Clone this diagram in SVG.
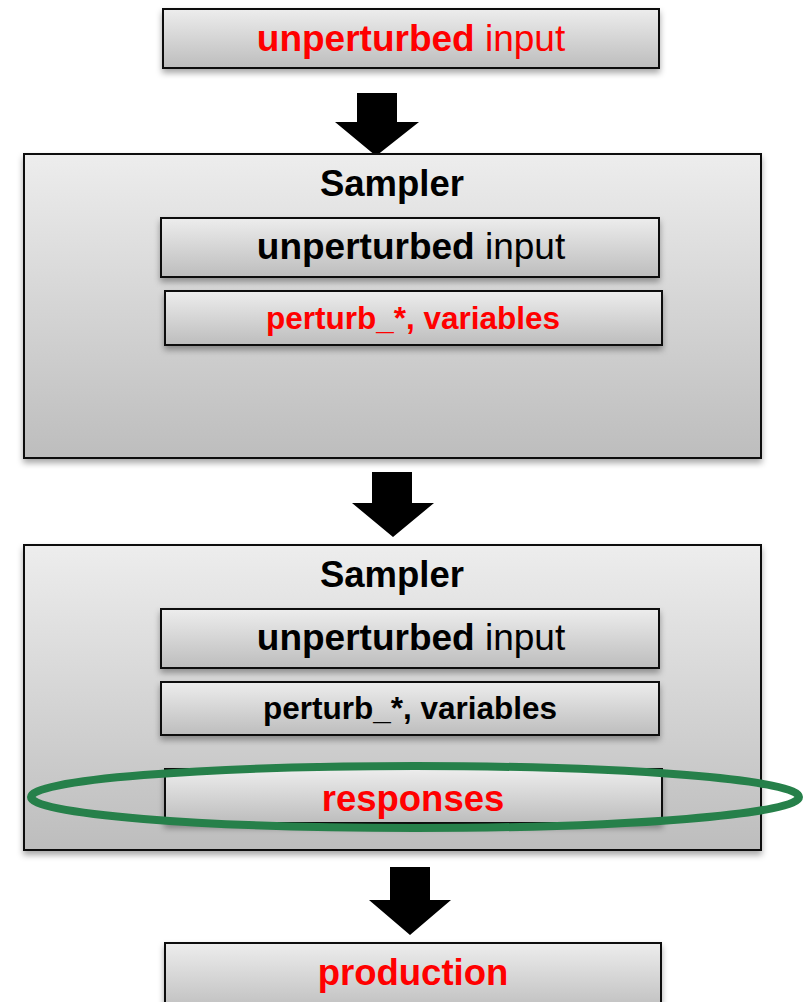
<svg xmlns="http://www.w3.org/2000/svg" width="804" height="1002" viewBox="0 0 804 1002">
<defs>
<linearGradient id="g" x1="0" y1="0" x2="0" y2="1">
<stop offset="0" stop-color="#ededed"/>
<stop offset="1" stop-color="#bdbdbd"/>
</linearGradient>
<filter id="sh" x="-10%" y="-20%" width="120%" height="150%">
<feDropShadow dx="0" dy="4" stdDeviation="3" flood-color="#000" flood-opacity="0.35"/>
</filter>
</defs>
<style>
.box{fill:url(#g);stroke:#111;stroke-width:2;filter:url(#sh)}
.t{font-family:"Liberation Sans",Arial,sans-serif;text-anchor:middle}
.b{font-weight:bold}
.red{fill:#ff0000}
.blk{fill:#000}
.arr{fill:#000}
</style>
<rect width="804" height="1002" fill="#fff"/>
<g id="connectors">
<polygon class="arr" points="357,93 397,93 397,122 419,122 376,156 335,122 357,122"/>
<polygon class="arr" points="372,472 412,472 412,503 434,503 393,537 352,503 372,503"/>
<polygon class="arr" points="390,867 430,867 430,900 451,900 410,935 369,900 390,900"/>
</g>
<g id="input-top">
<rect class="box" x="163" y="9" width="496" height="59"/>
<text class="t red" x="411" y="51" font-size="37"><tspan class="b">unperturbed</tspan> input</text>
</g>
<g id="sampler1">
<rect class="box" x="24" y="154" width="737" height="304"/>
<text class="t b blk" x="392" y="196" font-size="36.5">Sampler</text>
</g>
<g id="sampler1-input">
<rect class="box" x="161" y="218" width="498" height="59"/>
<text class="t blk" x="411" y="259" font-size="37"><tspan class="b">unperturbed</tspan> input</text>
</g>
<g id="sampler1-perturb">
<rect class="box" x="165" y="291" width="497" height="54"/>
<text class="t b red" x="413" y="329" font-size="31.5">perturb_*, variables</text>
</g>
<g id="sampler2">
<rect class="box" x="24" y="545" width="737" height="305"/>
<text class="t b blk" x="392" y="587" font-size="36.5">Sampler</text>
</g>
<g id="sampler2-input">
<rect class="box" x="161" y="609" width="498" height="59"/>
<text class="t blk" x="411" y="650" font-size="37"><tspan class="b">unperturbed</tspan> input</text>
</g>
<g id="sampler2-perturb">
<rect class="box" x="161" y="682" width="498" height="53"/>
<text class="t b blk" x="410" y="719" font-size="31.5">perturb_*, variables</text>
</g>
<g id="sampler2-responses">
<rect class="box" x="165" y="769" width="497" height="54"/>
<text class="t b red" x="413" y="811" font-size="36.5">responses</text>
</g>
<g id="highlight">
<ellipse cx="415" cy="797" rx="384" ry="31" fill="none" stroke="#26804a" stroke-width="8"/>
</g>
<g id="production">
<rect class="box" x="165" y="943" width="496" height="70"/>
<text class="t b red" x="413" y="985" font-size="36.5">production</text>
</g>
</svg>
